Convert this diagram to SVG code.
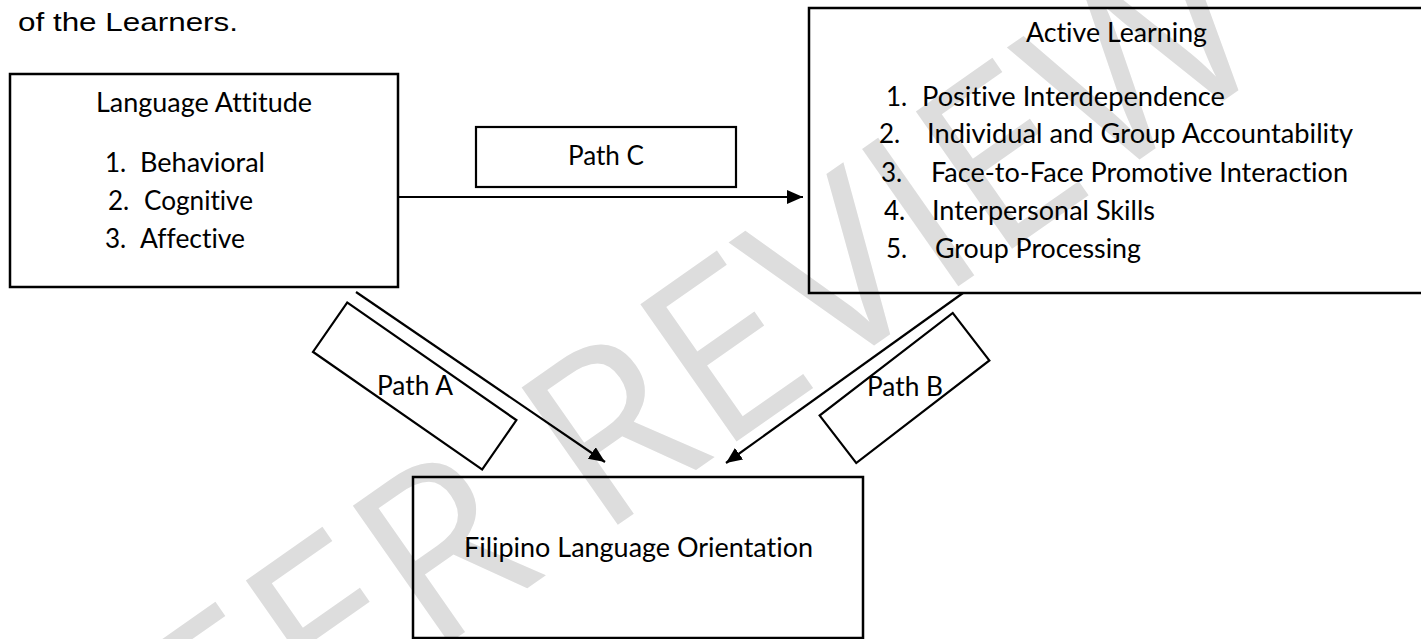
<svg xmlns="http://www.w3.org/2000/svg" width="1421" height="639" viewBox="0 0 1421 639">
<style>
.box{fill:none;stroke:#000;stroke-width:2.5}
.pbox{fill:none;stroke:#000;stroke-width:2.2}
.conn{fill:none;stroke:#000;stroke-width:2.2}
.t{font-family:Lato,"Open Sans",sans-serif;font-size:26px;fill:#000;font-variant-ligatures:none}
.h{font-family:"Liberation Sans",Arial,sans-serif;font-size:25px;fill:#000}
.wm{font-family:"Open Sans","DejaVu Sans",sans-serif;font-size:235px;fill:#dddddd}
</style>
<defs>
<marker id="ah" markerUnits="userSpaceOnUse" markerWidth="18" markerHeight="16" refX="16" refY="7" orient="auto">
<path d="M0,0 L16,7 L0,14 z" fill="#000"/>
</marker>
</defs>
<rect width="1421" height="639" fill="#fff"/>
<g id="watermark">
<text class="wm" transform="translate(641,406) rotate(-35)" x="0" y="84" text-anchor="middle">PEER REVIEW</text>
</g>
<text class="h" x="18" y="31" textLength="220" lengthAdjust="spacingAndGlyphs">of the Learners.</text>
<g id="connectors">
<line class="conn" x1="398" y1="197" x2="803" y2="197" marker-end="url(#ah)"/>
<line class="conn" x1="356" y1="292" x2="605" y2="462" marker-end="url(#ah)"/>
<line class="conn" x1="963" y1="293" x2="726" y2="463" marker-end="url(#ah)"/>
</g>
<g id="language-attitude">
<rect class="box" x="10" y="74" width="388" height="213"/>
<text class="t" x="96" y="112" textLength="216" lengthAdjust="spacingAndGlyphs">Language Attitude</text>
<text class="t" x="105" y="172">1.</text>
<text class="t" x="140" y="172" textLength="125" lengthAdjust="spacingAndGlyphs">Behavioral</text>
<text class="t" x="108" y="210">2.</text>
<text class="t" x="144" y="210" textLength="109" lengthAdjust="spacingAndGlyphs">Cognitive</text>
<text class="t" x="105" y="248">3.</text>
<text class="t" x="140" y="248" textLength="105" lengthAdjust="spacingAndGlyphs">Affective</text>
</g>
<g id="active-learning">
<rect class="box" x="809" y="8" width="620" height="285"/>
<text class="t" x="1026" y="42" textLength="181" lengthAdjust="spacingAndGlyphs">Active Learning</text>
<text class="t" x="886" y="106">1.</text>
<text class="t" x="922" y="106" textLength="303" lengthAdjust="spacingAndGlyphs">Positive Interdependence</text>
<text class="t" x="879" y="143">2.</text>
<text class="t" x="927" y="143" textLength="426" lengthAdjust="spacingAndGlyphs">Individual and Group Accountability</text>
<text class="t" x="881" y="182">3.</text>
<text class="t" x="931" y="182" textLength="417" lengthAdjust="spacingAndGlyphs">Face-to-Face Promotive Interaction</text>
<text class="t" x="884" y="220">4.</text>
<text class="t" x="932" y="220" textLength="223" lengthAdjust="spacingAndGlyphs">Interpersonal Skills</text>
<text class="t" x="886" y="258">5.</text>
<text class="t" x="935" y="258" textLength="206" lengthAdjust="spacingAndGlyphs">Group Processing</text>
</g>
<g id="path-c">
<rect class="pbox" x="476" y="127" width="260" height="60"/>
<text class="t" x="568" y="165" textLength="76" lengthAdjust="spacingAndGlyphs">Path C</text>
</g>
<g id="path-a">
<rect class="pbox" x="-103" y="-30" width="206" height="60" transform="translate(414.7,386) rotate(34.8)"/>
<text class="t" x="377" y="395" textLength="76" lengthAdjust="spacingAndGlyphs">Path A</text>
</g>
<g id="path-b">
<rect class="pbox" x="-84" y="-30" width="168" height="60" transform="translate(904.5,388) rotate(-37.6)"/>
<text class="t" x="867" y="396" textLength="76" lengthAdjust="spacingAndGlyphs">Path B</text>
</g>
<g id="filipino-language-orientation">
<rect class="box" x="413" y="477" width="450" height="161"/>
<text class="t" x="464" y="557" textLength="349" lengthAdjust="spacingAndGlyphs">Filipino Language Orientation</text>
</g>
</svg>
